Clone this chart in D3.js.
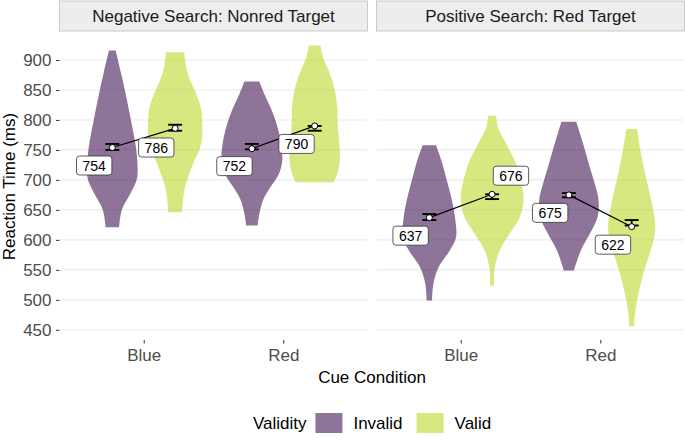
<!DOCTYPE html>
<html>
<head>
<meta charset="utf-8">
<script src="https://cdn.jsdelivr.net/npm/d3@7"></script>
<style>
  body { margin: 0; background: #fff; }
  text { font-family: "Liberation Sans", Arial, Helvetica, sans-serif; }
</style>
</head>
<body>
<div id="container"></div>
<script>
'use strict'

// ---- data ----
const panels = ["Negative Search: Nonred Target", "Positive Search: Red Target"];
const cues = ["Blue", "Red"];
const validity = ["Invalid", "Valid"];
const yTicks = [450, 500, 550, 600, 650, 700, 750, 800, 850, 900];

// [panel][cue][validity]
const meanRT = [[[754, 786], [752, 790]], [[637, 676], [675, 622]]];
const ciLow  = [[[750, 782], [751, 782]], [[633, 668], [671, 624]]];
const ciHigh = [[[760, 792], [760, 790]], [[643, 676], [678, 633]]];

// where the labels ended up relative to the means (x in category steps, y in ms)
const labelDx = [[[-0.13, -0.135], [-0.125, -0.13]], [[-0.134, 0.135], [-0.134, -0.134]]];
const labelDy = [[[-30, -32], [-29, -30]], [[-30, 31], [-30, -30]]];

// violin outlines: reaction times and relative density
const violinRT = [
  [
    [[916, 880, 850, 800, 750, 715, 700, 680, 650, 621],
     [913, 890, 870, 849, 821, 800, 771, 750, 730, 710, 690, 670, 646]],
    [[864, 843, 821, 799, 766, 732, 710, 688, 666, 643, 624],
     [924, 904, 877, 849, 821, 793, 766, 738, 716, 696]]
  ],
  [
    [[758, 732, 699, 666, 633, 604, 582, 554, 527, 499],
     [807, 788, 760, 732, 699, 666, 638, 610, 582, 554, 524]],
    [[797, 777, 749, 721, 693, 666, 638, 610, 582, 549],
     [785, 749, 710, 666, 621, 593, 566, 538, 510, 482, 456]]
  ]
];
const violinDensity = [
  [
    [[10, 25, 37, 55, 71, 75, 72, 56, 28, 20],
     [27, 32, 42, 58, 76, 80, 80, 72, 55, 42, 30, 24, 20]],
    [[22, 37, 55, 70, 85, 90, 80, 55, 33, 22, 17],
     [17, 25, 45, 60, 67, 68, 72, 75, 70, 57]]
  ],
  [
    [[20, 36, 52, 67, 77, 79, 60, 27, 12, 8],
     [12, 17, 42, 67, 85, 93, 82, 52, 22, 8, 6]],
    [[22, 33, 48, 62, 77, 88, 85, 62, 35, 15],
     [16, 26, 40, 58, 70, 62, 47, 32, 20, 11, 7]]
  ]
];

const fillColors = ["#441755", "#BAD92A"];

// ---- layout ----
const width = 685, height = 441;
const panelRange = [[60, 367], [377, 684]];
const plotTop = 33, plotBottom = 340;

const svg = d3.select('#container').append('svg')
  .attr('width', width)
  .attr('height', height);

const y = d3.scaleLinear().domain([433, 945]).range([plotBottom, plotTop]);

panels.forEach(function(title, p) {
  const x = d3.scalePoint().domain(cues).range(panelRange[p]).padding(0.6);
  const step = x.step();
  const dodge = v => (v === 0 ? -0.225 : 0.225) * step;
  const w = d3.scaleLinear().domain([0, 93]).range([0, 0.225 * step]);
  const g = svg.append('g');

  // grid
  g.selectAll('.grid').data(yTicks).enter().append('line')
    .attr('x1', panelRange[p][0]).attr('x2', panelRange[p][1])
    .attr('y1', d => y(d)).attr('y2', d => y(d))
    .attr('stroke', '#EBEBEB').attr('stroke-width', 1.1);

  // strip
  g.append('rect')
    .attr('x', panelRange[p][0] - 0.5).attr('y', 1)
    .attr('width', panelRange[p][1] - panelRange[p][0] + 1).attr('height', 30)
    .attr('fill', '#EDEDED').attr('stroke', '#C6C6C6').attr('stroke-width', 0.9);
  g.append('text')
    .attr('x', (panelRange[p][0] + panelRange[p][1]) / 2).attr('y', 16)
    .attr('dy', '0.35em').attr('text-anchor', 'middle')
    .attr('font-size', 17).attr('fill', '#1A1A1A')
    .text(title);

  // violins
  cues.forEach(function(cue, c) {
    validity.forEach(function(v, k) {
      const cx = x(cue) + dodge(k);
      const pts = violinRT[p][c][k].map((rt, i) => [rt, violinDensity[p][c][k][i]]);
      const area = d3.area()
        .y(d => y(d[0]))
        .x0(d => cx - w(d[1]))
        .x1(d => cx + w(d[1]))
        .curve(d3.curveCatmullRom);
      g.append('path').attr('d', area(pts))
        .attr('fill', fillColors[k]).attr('fill-opacity', 0.6);
    });
  });

  // error bars
  const half = 0.05 * step;
  cues.forEach(function(cue, c) {
    validity.forEach(function(v, k) {
      const cx = x(cue) + dodge(k);
      const lo = y(ciLow[p][c][k]), hi = y(ciHigh[p][c][k]);
      g.append('line').attr('x1', cx).attr('x2', cx).attr('y1', lo).attr('y2', hi)
        .attr('stroke', '#000').attr('stroke-width', 1.8);
      [lo, hi].forEach(function(yy) {
        g.append('line').attr('x1', cx - half).attr('x2', cx + half)
          .attr('y1', yy).attr('y2', yy)
          .attr('stroke', '#000').attr('stroke-width', 1.9);
      });
    });
  });

  // lines joining the means
  cues.forEach(function(cue, c) {
    const line = d3.line().x(d => x(cue) + dodge(d)).y(d => y(meanRT[p][c][d]));
    g.append('path').attr('d', line([0, 1]))
      .attr('fill', 'none').attr('stroke', '#000').attr('stroke-width', 1.2);
  });

  // mean points
  cues.forEach(function(cue, c) {
    validity.forEach(function(v, k) {
      g.append('circle')
        .attr('cx', x(cue) + dodge(k)).attr('cy', y(meanRT[p][c][k]))
        .attr('r', 3).attr('fill', '#fff').attr('stroke', '#000').attr('stroke-width', 1);
    });
  });

  // labels
  cues.forEach(function(cue, c) {
    validity.forEach(function(v, k) {
      const lx = x(cue) + dodge(k) + labelDx[p][c][k] * step;
      const ly = y(meanRT[p][c][k] + labelDy[p][c][k]);
      const lg = g.append('g');
      const rect = lg.append('rect');
      const t = lg.append('text')
        .attr('x', lx).attr('y', ly).attr('dy', '0.36em')
        .attr('text-anchor', 'middle').attr('font-size', 14).attr('fill', '#000')
        .text(meanRT[p][c][k]);
      const tw = t.node().getComputedTextLength();
      rect.attr('x', lx - tw / 2 - 6).attr('y', ly - 9.5)
        .attr('width', tw + 12).attr('height', 19).attr('rx', 3)
        .attr('fill', '#fff').attr('stroke', '#333').attr('stroke-width', 0.8);
    });
  });

  // x axis
  const xAxis = g.append('g')
    .attr('transform', 'translate(0,' + plotBottom + ')')
    .call(d3.axisBottom(x).tickSize(3.5).tickPadding(5.5));
  xAxis.select('.domain').remove();
  xAxis.selectAll('.tick line').attr('stroke', '#333');
  xAxis.selectAll('.tick text').attr('font-size', 17).attr('fill', '#4D4D4D')
    .attr('font-family', '"Liberation Sans", Arial, sans-serif');

  if (p === 0) {
    const yAxis = g.append('g')
      .attr('transform', 'translate(' + (panelRange[0][0] - 0.5) + ',0)')
      .call(d3.axisLeft(y).tickValues(yTicks).tickSize(3.5).tickPadding(4.5));
    yAxis.select('.domain').remove();
    yAxis.selectAll('.tick line').attr('stroke', '#333');
    yAxis.selectAll('.tick text').attr('font-size', 17).attr('fill', '#4D4D4D')
      .attr('font-family', '"Liberation Sans", Arial, sans-serif');
  }
});

// axis titles
svg.append('text')
  .attr('transform', 'translate(9,' + (plotTop + plotBottom) / 2 + ') rotate(-90)')
  .attr('dy', '0.35em').attr('text-anchor', 'middle')
  .attr('font-size', 17).attr('fill', '#000')
  .text('Reaction Time (ms)');
svg.append('text')
  .attr('x', (panelRange[0][0] + panelRange[1][1]) / 2).attr('y', 383)
  .attr('text-anchor', 'middle').attr('font-size', 17).attr('fill', '#000')
  .text('Cue Condition');

// legend
const legend = svg.append('g');
let cursor = 0;
const legTitle = legend.append('text').attr('x', 0).attr('y', 429)
  .attr('font-size', 17).attr('fill', '#000').text('Validity');
cursor += legTitle.node().getComputedTextLength() + 9;
validity.forEach(function(v, k) {
  legend.append('rect').attr('x', cursor).attr('y', 413).attr('width', 27).attr('height', 20)
    .attr('fill', fillColors[k]).attr('fill-opacity', 0.6);
  cursor += 27 + 11;
  const t = legend.append('text').attr('x', cursor).attr('y', 429)
    .attr('font-size', 17).attr('fill', '#000').text(v);
  cursor += t.node().getComputedTextLength() + (k === 0 ? 14 : 0);
});
legend.attr('transform', 'translate(' + ((panelRange[0][0] + panelRange[1][1]) / 2 - cursor / 2) + ',0)');
</script>
</body>
</html>
